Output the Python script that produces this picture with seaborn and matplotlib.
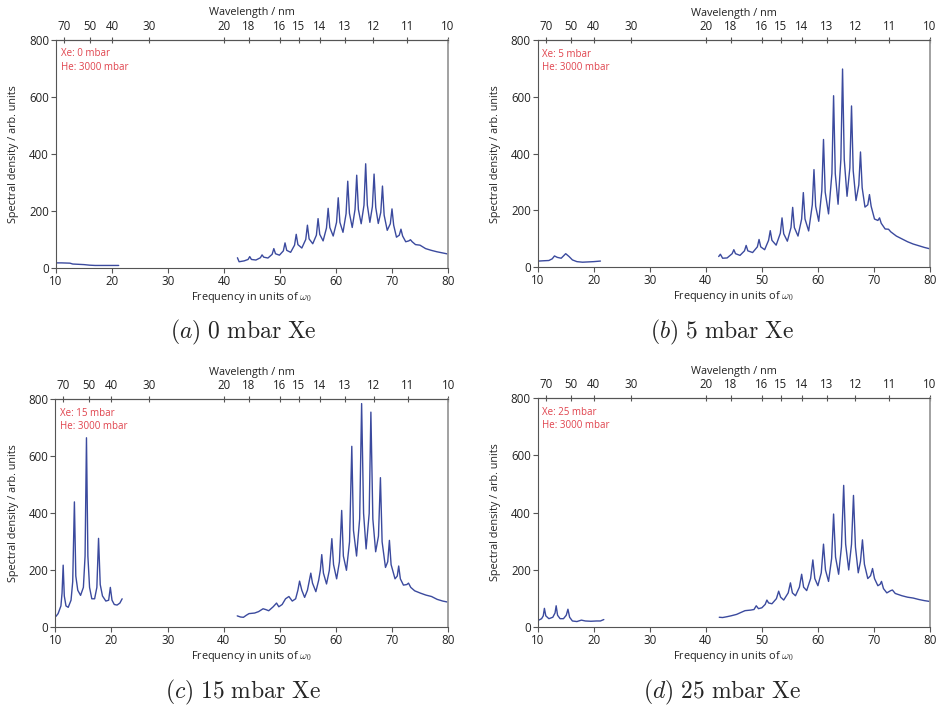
import numpy as np
import pandas as pd
import matplotlib
matplotlib.use("Agg")
import matplotlib.pyplot as plt
import seaborn as sns

# spectra (frequency in units of w0, spectral density)
a_low_x = [10.1, 11.0, 12.5, 13.0, 14.0, 15.0, 16.0, 17.0, 19.0, 21.2]
a_low_y = [18, 18, 17, 14, 13, 12, 10, 9, 9, 9]
a_high_x = [42.4, 42.7, 43.6, 44.3, 44.6, 44.9, 45.7, 46.5, 46.8, 47.1, 47.85,
            48.6, 48.9, 49.2, 49.9, 50.6, 50.9, 51.2, 51.9, 52.6, 52.9, 53.2,
            53.9, 54.6, 54.9, 55.2, 55.85, 56.5, 56.8, 57.1, 57.7, 58.3, 58.6,
            58.9, 59.5, 60.1, 60.4, 60.7, 61.25, 61.8, 62.1, 62.4, 62.9, 63.4,
            63.7, 64.0, 64.5, 65.0, 65.3, 65.6, 66.05, 66.5, 66.8, 67.1, 67.55,
            68.0, 68.3, 68.6, 69.15, 69.7, 70.0, 70.3, 70.8, 71.3, 71.6, 71.9,
            72.45, 73.0, 73.3, 73.6, 74.2, 75.0, 76.0, 77.0, 78.0, 79.0, 80.0]
a_high_y = [36, 22, 25, 30, 40, 30, 28, 36, 46, 38, 35,
            48, 68, 50, 45, 60, 88, 62, 55, 80, 118, 82,
            70, 100, 150, 102, 85, 115, 173, 118, 95, 140, 209,
            142, 112, 160, 246, 160, 125, 190, 304, 192, 142, 205,
            325, 205, 155, 220, 365, 220, 160, 215, 329, 212, 156,
            195, 287, 185, 132, 155, 207, 150, 108, 115, 136, 112,
            92, 95, 99, 92, 82, 80, 68, 62, 57, 53, 49]

b_low_x = [10.2, 11.0, 12.0, 12.6, 13.0, 13.5, 14.2, 15.0, 15.6, 16.2, 17.0,
           18.0, 19.0, 20.0, 21.2]
b_low_y = [22, 23, 24, 30, 40, 35, 32, 48, 38, 26, 20, 18, 19, 20, 22]
b_high_x = [42.3, 42.6, 43.0, 43.8, 44.7, 45.0, 45.3, 46.1, 46.9, 47.2, 47.5,
            48.35, 49.2, 49.5, 49.8, 50.5, 51.2, 51.5, 51.8, 52.55, 53.3, 53.6,
            53.9, 54.55, 55.2, 55.5, 55.8, 56.45, 57.1, 57.4, 57.7, 58.35, 59.0,
            59.3, 59.6, 60.15, 60.7, 61.0, 61.3, 61.9, 62.5, 62.8, 63.1, 63.6,
            64.1, 64.4, 64.7, 65.2, 65.7, 66.0, 66.3, 66.8, 67.3, 67.6, 67.9,
            68.4, 68.9, 69.2, 69.5, 70.1, 70.7, 71.0, 71.3, 72.0, 72.6, 73.0,
            74.0, 75.0, 76.0, 77.0, 78.0, 79.0, 80.0]
b_high_y = [38, 46, 32, 33, 48, 62, 48, 42, 58, 77, 58,
            52, 72, 98, 72, 62, 95, 129, 95, 78, 120, 174,
            118, 92, 140, 211, 140, 110, 170, 263, 170, 128, 220,
            344, 215, 162, 270, 450, 265, 188, 330, 604, 330, 222,
            380, 698, 380, 250, 350, 568, 340, 235, 290, 406, 280,
            212, 220, 256, 215, 170, 165, 174, 155, 135, 134, 125,
            110, 100, 90, 82, 76, 70, 65]

c_low_x = [10.1, 10.5, 11.0, 11.2, 11.4, 11.6, 11.9, 12.3, 12.8, 13.1, 13.4,
           13.65, 14.0, 14.5, 15.0, 15.3, 15.55, 15.8, 16.1, 16.5, 17.0, 17.4,
           17.7, 18.0, 18.4, 19.0, 19.5, 19.8, 20.1, 20.5, 21.0, 21.5, 21.9]
c_low_y = [38, 48, 75, 120, 218, 110, 75, 70, 95, 160, 440,
           180, 130, 112, 140, 250, 665, 250, 140, 100, 100, 140,
           312, 150, 110, 92, 95, 140, 95, 80, 78, 85, 100]
c_high_x = [42.4, 43.0, 43.5, 44.0, 44.5, 45.5, 46.2, 47.0, 47.5, 48.0, 48.8,
            49.4, 49.8, 50.4, 51.0, 51.6, 52.2, 52.8, 53.2, 53.5, 53.9, 54.4,
            54.9, 55.2, 55.5, 55.8, 56.4, 56.9, 57.2, 57.45, 57.75, 58.3, 58.8,
            59.25, 59.55, 60.1, 60.6, 61.0, 61.3, 61.85, 62.4, 62.8, 63.1, 63.65,
            64.2, 64.55, 64.9, 65.35, 65.9, 66.2, 66.55, 67.05, 67.55, 67.9, 68.2,
            68.8, 69.2, 69.5, 69.8, 70.5, 70.9, 71.15, 71.45, 72.0, 72.6, 72.9,
            73.3, 74.0, 75.0, 76.0, 77.0, 78.0, 79.0, 80.0]
c_high_y = [40, 36, 35, 42, 48, 50, 55, 65, 62, 58, 72,
            85, 72, 80, 100, 108, 92, 100, 130, 162, 130, 105,
            130, 160, 190, 155, 125, 165, 200, 255, 190, 152, 200,
            311, 220, 170, 230, 410, 250, 200, 300, 635, 340, 250,
            380, 785, 400, 275, 400, 755, 380, 265, 320, 525, 300,
            210, 230, 305, 220, 170, 180, 215, 170, 148, 150, 155,
            140, 128, 120, 113, 108, 98, 92, 88]

d_low_x = [10.2, 10.7, 11.0, 11.2, 11.45, 12.0, 12.7, 13.1, 13.3, 13.55, 14.0,
           14.6, 15.1, 15.4, 15.7, 16.2, 17.0, 17.8, 18.5, 19.5, 20.5, 21.2, 21.8]
d_low_y = [25, 30, 40, 66, 40, 30, 35, 50, 75, 42, 30,
           30, 42, 63, 35, 22, 20, 25, 22, 21, 22, 22, 27]
d_high_x = [42.4, 43.0, 43.8, 44.5, 45.5, 46.3, 47.0, 48.0, 48.6, 49.0, 49.4,
            50.0, 50.6, 50.9, 51.2, 51.8, 52.6, 53.0, 53.35, 53.9, 54.7, 55.1,
            55.45, 56.0, 56.7, 57.1, 57.45, 58.0, 58.7, 59.1, 59.45, 60.0, 60.6,
            61.0, 61.35, 61.9, 62.45, 62.8, 63.15, 63.7, 64.2, 64.6, 64.95, 65.5,
            66.0, 66.35, 66.7, 67.2, 67.6, 67.95, 68.3, 68.9, 69.4, 69.75, 70.1,
            70.7, 71.1, 71.35, 71.7, 72.3, 73.0, 73.3, 73.8, 75.0, 76.0, 77.0,
            78.0, 79.0, 80.0]
d_high_y = [35, 34, 37, 40, 45, 52, 58, 60, 62, 75, 65,
            68, 80, 95, 85, 82, 100, 126, 105, 95, 120, 155,
            120, 110, 140, 185, 140, 128, 170, 235, 170, 145, 190,
            290, 200, 160, 240, 395, 245, 185, 280, 495, 290, 200,
            290, 460, 280, 190, 230, 305, 220, 170, 180, 205, 170,
            145, 150, 160, 135, 120, 128, 130, 118, 110, 105, 102,
            97, 93, 90]

xe_pressure = [0, 5, 15, 25]
panel_letters = ["a", "b", "c", "d"]
wavelength_ticks = [70, 50, 40, 30, 20, 18, 16, 15, 14, 13, 12, 11, 10]
fund_nm = 800.0

spectra = [
    (a_low_x, a_low_y, a_high_x, a_high_y),
    (b_low_x, b_low_y, b_high_x, b_high_y),
    (c_low_x, c_low_y, c_high_x, c_high_y),
    (d_low_x, d_low_y, d_high_x, d_high_y),
]

sns.set_style("ticks")
plt.rcParams["font.family"] = ["Open Sans", "DejaVu Sans"]
plt.rcParams["mathtext.fontset"] = "cm"

line_col = "#3b4a9e"
red_col = "#e0434d"
spine_col = "#555555"
txt_col = "#222222"


def to_wl(x):
    x = np.asarray(x, dtype=float)
    with np.errstate(divide="ignore", invalid="ignore"):
        return fund_nm / x


fig = plt.figure(figsize=(9.39, 7.10), dpi=100)
positions = [
    [0.0596, 0.6225, 0.4175, 0.3218],
    [0.5726, 0.6235, 0.4178, 0.3201],
    [0.0589, 0.1165, 0.4186, 0.3211],
    [0.5726, 0.1165, 0.4178, 0.3230],
]
caption_xy = [(0.259, 0.532), (0.769, 0.532), (0.259, 0.025), (0.769, 0.025)]

for i, (lx, ly, hx, hy) in enumerate(spectra):
    ax = fig.add_axes(positions[i])
    low = pd.DataFrame({"freq": lx, "dens": ly})
    high = pd.DataFrame({"freq": hx, "dens": hy})
    sns.lineplot(data=low, x="freq", y="dens", ax=ax, color=line_col,
                 linewidth=1.0, estimator=None, sort=False)
    sns.lineplot(data=high, x="freq", y="dens", ax=ax, color=line_col,
                 linewidth=1.0, estimator=None, sort=False)
    ax.set_xlim(10, 80)
    ax.set_ylim(0, 800)
    ax.set_xticks(range(10, 81, 10))
    ax.set_yticks(range(0, 801, 200))
    ax.tick_params(axis="both", labelsize=8.3, length=3.5, width=0.8,
                   color=spine_col, labelcolor=txt_col, pad=1.5)
    for side in ["left", "bottom", "top"]:
        ax.spines[side].set_color(spine_col)
        ax.spines[side].set_linewidth(0.8)
    ax.spines["right"].set_visible(True)
    ax.spines["right"].set_color("#9a9a9a")
    ax.spines["right"].set_linewidth(1.3)
    ax.set_xlabel(r"Frequency in units of $\omega_0$", fontsize=7.8,
                  labelpad=1.5, color=txt_col)
    ax.set_ylabel("Spectral density / arb. units", fontsize=7.8,
                  labelpad=7, color=txt_col)

    sec = ax.secondary_xaxis("top", functions=(to_wl, to_wl))
    sec.set_xticks(wavelength_ticks)
    sec.set_xticklabels([str(w) for w in wavelength_ticks])
    sec.tick_params(axis="x", labelsize=8.3, length=4, width=0.8,
                    direction="inout", color=spine_col, labelcolor=txt_col,
                    pad=3)
    sec.set_xlabel("Wavelength / nm", fontsize=7.8, labelpad=3, color=txt_col)
    sec.spines["top"].set_color(spine_col)
    sec.spines["top"].set_linewidth(0.8)

    ax.text(0.012, 0.962, f"Xe: {xe_pressure[i]} mbar\nHe: 3000 mbar",
            transform=ax.transAxes, va="top", ha="left", color=red_col,
            fontsize=7.0, linespacing=1.3)

    cx, cy = caption_xy[i]
    fig.text(cx, cy, rf"$({panel_letters[i]})\ \mathrm{{{xe_pressure[i]}\ mbar\ Xe}}$",
             ha="center", va="center", fontsize=17)

fig.savefig("out.png", dpi=100)
